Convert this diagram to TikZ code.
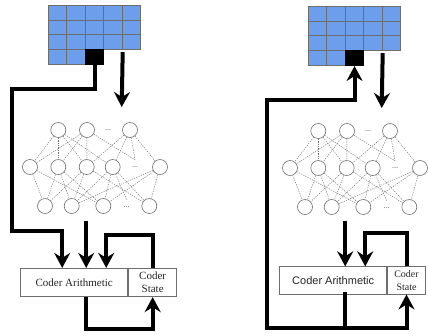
\documentclass[tikz,border=0pt]{standalone}
\usepackage{fontspec}
\setmainfont{Liberation Serif}
\newfontfamily\arialfont{Liberation Sans}
\usetikzlibrary{arrows.meta}
\definecolor{cellblue}{HTML}{6D9EEB}
\definecolor{edgegray}{HTML}{6E6E6E}
\tikzset{
cell/.style = {draw = edgegray, fill = cellblue, line width = 0.8pt, minimum width = 18.5pt, minimum height = 14.9pt, inner sep = 0pt},
hot/.style = {cell, fill = black, draw = black},
neuron/.style = {circle, draw = edgegray, line width = 0.6pt, minimum size = 15pt, inner sep = 0pt},
more/.style = {inner sep = 0pt, minimum height = 14pt, font = \footnotesize, text = black!70},
link/.style = {draw = black!55, line width = 0.45pt, dash pattern = on 1.3pt off 1.1pt},
wire/.style = {line width = 4pt},
flow/.style = {wire, -{Stealth[length = 15pt, width = 16pt, inset = 5pt]}},
coder/.style = {draw = edgegray, fill = white, line width = 0.8pt, inner sep = 0pt, align = center, text = black!85}
}
\begin{document}
\begin{tikzpicture}[x = 1pt, y = -1pt]
\useasboundingbox (0,0) rectangle (428,335);
\pgfmathsetmacro\cw{18.5};
\pgfmathsetmacro\ch{14.9};
\foreach \p/\dx/\dy in {l/0/0, r/260/1} {
\begin{scope}[shift = {(\dx,\dy)}]
\foreach \r in {1,2,3} \foreach \c in {1,...,5} \node[cell] (\p-\r-\c) at ({39.05+\cw*\c},{-2.45+\ch*\r}) {};
\node[cell] (\p-4-1) at ({39.05+\cw*1},{-2.45+\ch*4}) {};
\node[cell] (\p-4-2) at ({39.05+\cw*2},{-2.45+\ch*4}) {};
\node[hot] (\p-4-3) at ({39.05+\cw*3},{-2.45+\ch*4}) {};
\foreach \n/\x in {1/58.3,2/87,3/130} \node[neuron] (\p-t\n) at (\x,130) {};
\node[more] (\p-td) at (108,130) {...};
\foreach \n/\x in {1/30,2/58.3,3/86.7,4/112.7,6/160} \node[neuron] (\p-m\n) at (\x,167) {};
\node[more] (\p-m5) at (135,167) {...};
\foreach \n/\x in {1/45,2/71.7,3/103.3,5/149.3} \node[neuron] (\p-b\n) at (\x,206) {};
\node[more] (\p-b4) at (126.7,207) {...};
\foreach \a/\b in {t1/m1,t1/m2,t1/m3,t1/m4,t2/m1,t2/m2,t2/m3,t3/m3,t3/m4,t3/m6,m1/b1,m1/b3,m2/b1,m2/b2,m2/b3,m3/b1,m3/b2,m3/b5,m4/b2,m4/b3,m4/b5,m6/b2,m6/b3,m6/b5} \draw[link] (\p-\a) -- (\p-\b);
\foreach \a in {t2,t3} \draw[link] (\p-\a) -- (\p-m5.north);
\draw[link] (\p-m4) -- (\p-b4.north);
\coordinate (\p-net) at (121.7,107);
\draw[flow] ([yshift = -2pt]\p-3-4.south east) -- (\p-net);
\end{scope}
}
\node[coder, minimum width = 107pt, minimum height = 28.4pt, font = \fontsize{11}{12.7}\selectfont] (l-arith) at (74.2,282.5) {Coder Arithmetic};
\node[coder, minimum width = 48.3pt, minimum height = 28.4pt, anchor = west, font = \fontsize{11}{12.7}\selectfont] (l-state) at (l-arith.east) {Coder\\State};
\draw[flow] (l-4-3.south) -- ++(0,24.3) -| (11.7,231) -| ([xshift = -12pt]l-arith.north);
\draw[flow] (l-arith.north) ++(12,-47) -- ++(0,47);
\draw[flow] (l-state.north) -- ++(0,-32.5) -| ([xshift = 32pt]l-arith.north);
\draw[flow] ([xshift = 12pt]l-arith.south) -- ++(0,31.7) -| (l-state.south);
\node[coder, minimum width = 107pt, minimum height = 27.3pt, font = \arialfont\fontsize{11}{13}\selectfont] (r-arith) at (333.2,280.4) {Coder Arithmetic};
\node[coder, minimum width = 38pt, minimum height = 27.3pt, anchor = west, font = \fontsize{10}{13.5}\selectfont] (r-state) at (r-arith.east) {Coder\\State};
\draw[flow] (r-arith.north) ++(12,-45) -- ++(0,45);
\draw[flow] (r-state.north) -- ++(0,-33) -| ([xshift = 32pt]r-arith.north);
\draw[wire, line cap = rect] ([xshift = 12pt]r-arith.south) -- ++(0,33.3) coordinate (r-foot);
\draw[flow] (r-foot) -| (267.3,100) -| (r-4-3.south);
\draw[flow] (r-foot) -| (r-state.south);
\end{tikzpicture}
\end{document}
